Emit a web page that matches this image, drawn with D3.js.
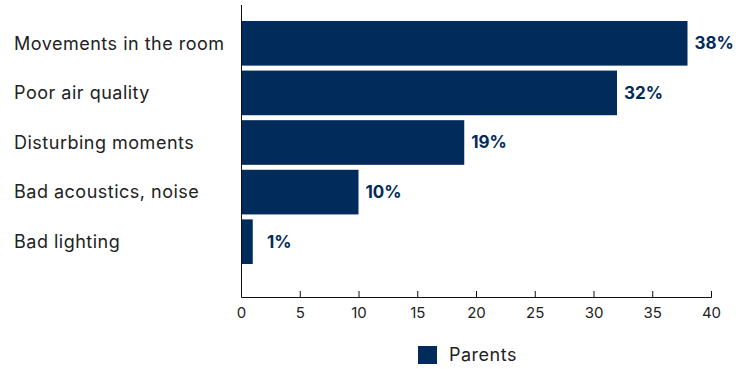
<!DOCTYPE html>
<html>
<head>
<meta charset="utf-8">
<script src="https://cdn.jsdelivr.net/npm/d3@7"></script>
<style>
  body { margin: 0; background: #fff; }
  svg { display: block; }
</style>
</head>
<body>
<svg class="chart"></svg>
<script>
const categories = ["Movements in the room", "Poor air quality", "Disturbing moments", "Bad acoustics, noise", "Bad lighting"];
const values = [38, 32, 19, 10, 1];
const xTicks = [0, 5, 10, 15, 20, 25, 30, 35, 40];
const seriesName = "Parents";

const W = 736, H = 369;
const barColor = "#002b5a";
const font = "Inter, 'Noto Sans', sans-serif";

const svg = d3.select(".chart")
    .attr("width", W)
    .attr("height", H);

const x = d3.scaleLinear()
    .domain([0, 40])
    .range([241, 711]);

const y = d3.scaleBand()
    .domain(categories)
    .range([18.5, 266.5])
    .paddingInner(0.1)
    .paddingOuter(0.05);

const axisY = 297;

// bars
svg.selectAll("rect.bar")
    .data(values)
    .enter().append("rect")
    .attr("class", "bar")
    .attr("x", x(0))
    .attr("y", (d, i) => y(categories[i]))
    .attr("width", d => x(d) - x(0))
    .attr("height", y.bandwidth())
    .attr("fill", barColor);

// value labels
svg.selectAll("text.val")
    .data(values)
    .enter().append("text")
    .attr("class", "val")
    .attr("x", d => Math.max(x(d) + 7, x(0) + 26))
    .attr("y", (d, i) => y(categories[i]) + y.bandwidth() / 2)
    .attr("dy", "0.35em")
    .style("font-family", font)
    .style("font-size", "17px")
    .style("font-weight", "700")
    .style("fill", barColor)
    .text(d => d + "%");

// category labels
svg.selectAll("text.cat")
    .data(categories)
    .enter().append("text")
    .attr("class", "cat")
    .attr("x", 14)
    .attr("y", d => y(d) + y.bandwidth() / 2)
    .attr("dy", "0.35em")
    .style("font-family", font)
    .style("font-size", "18px")
    .style("letter-spacing", "0.5px")
    .style("fill", "#222")
    .text(d => d);

// x axis
const xAxis = svg.append("g")
    .attr("transform", `translate(0,${axisY})`)
    .call(d3.axisBottom(x)
        .tickValues(xTicks)
        .tickSize(-6)
        .tickPadding(10));
xAxis.select(".domain").attr("stroke", "#111");
xAxis.selectAll(".tick line").attr("stroke", "#111");
xAxis.selectAll(".tick text")
    .style("font-family", font)
    .style("font-size", "15px")
    .style("fill", "#222");

// y axis line
svg.append("line")
    .attr("x1", x(0) + 0.5)
    .attr("x2", x(0) + 0.5)
    .attr("y1", 5)
    .attr("y2", axisY)
    .attr("stroke", "#111");

// legend
const legend = svg.append("g");
legend.append("rect")
    .attr("x", 418)
    .attr("y", 346)
    .attr("width", 19)
    .attr("height", 18)
    .attr("fill", barColor);
legend.append("text")
    .attr("x", 449)
    .attr("y", 355)
    .attr("dy", "0.35em")
    .style("font-family", font)
    .style("font-size", "18px")
    .style("letter-spacing", "0.5px")
    .style("fill", "#222")
    .text(seriesName);
</script>
</body>
</html>
